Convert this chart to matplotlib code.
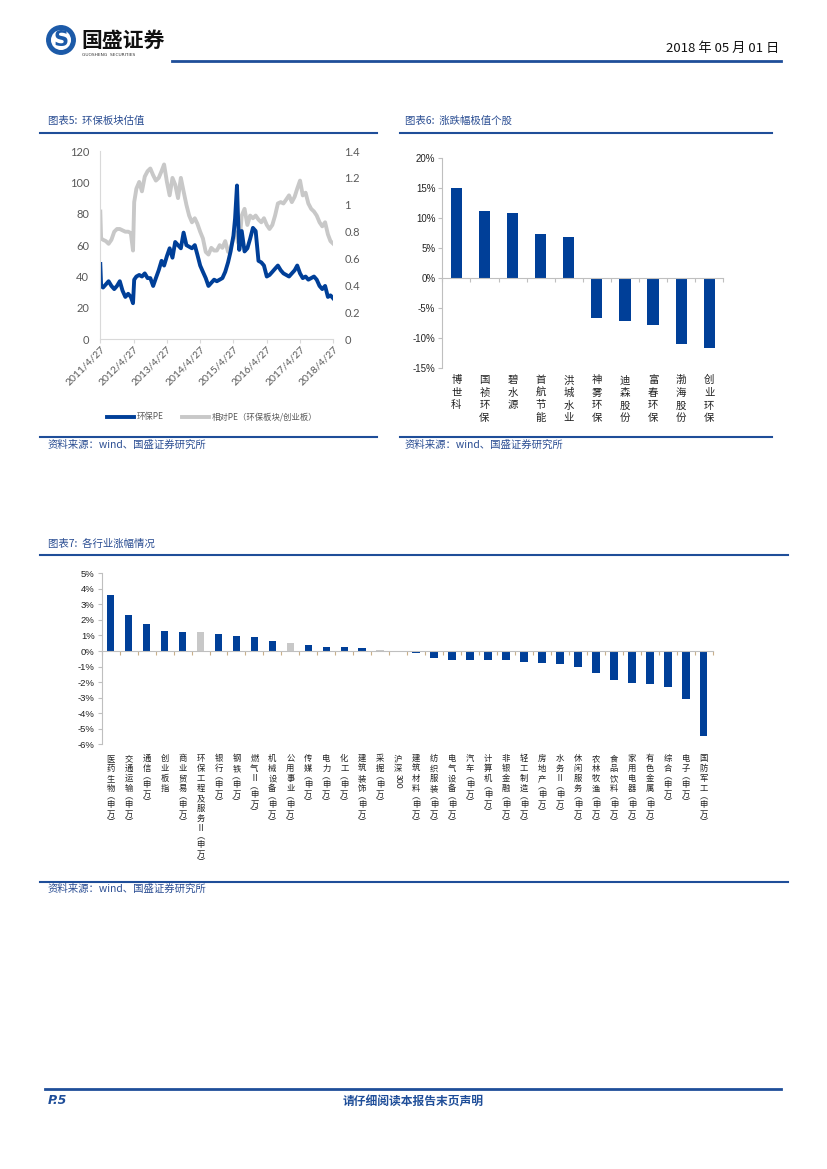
import matplotlib
matplotlib.use('Agg')
import matplotlib.pyplot as plt
from matplotlib.lines import Line2D
from matplotlib.patches import Circle
import pandas as pd

plt.rcParams['font.family'] = ['Noto Sans CJK SC', 'DejaVu Sans']
plt.rcParams['axes.unicode_minus'] = False

# ---------------- data ----------------
pe_dates = ["2011-04-27", "2011-05-06", "2011-05-27", "2011-06-27", "2011-07-27", "2011-08-27",
            "2011-09-27", "2011-10-27", "2011-11-27", "2011-12-27", "2012-01-27", "2012-02-27",
            "2012-03-27", "2012-04-20", "2012-05-03", "2012-05-27", "2012-06-27", "2012-07-27",
            "2012-08-27", "2012-09-27", "2012-10-27", "2012-11-27", "2012-12-27", "2013-01-27",
            "2013-02-27", "2013-03-27", "2013-04-27", "2013-05-27", "2013-06-27", "2013-07-27",
            "2013-08-27", "2013-09-27", "2013-10-27", "2013-11-27", "2013-12-27", "2014-01-27",
            "2014-02-27", "2014-03-27", "2014-04-27", "2014-05-27", "2014-06-27", "2014-07-27",
            "2014-08-27", "2014-09-27", "2014-10-27", "2014-11-27", "2014-12-27", "2015-01-27",
            "2015-02-27", "2015-03-27", "2015-04-27", "2015-05-15", "2015-06-05", "2015-06-15",
            "2015-06-30", "2015-07-27", "2015-08-27", "2015-09-27", "2015-10-27", "2015-11-27",
            "2015-12-27", "2016-01-27", "2016-02-27", "2016-03-27", "2016-04-27", "2016-05-27",
            "2016-06-27", "2016-07-27", "2016-08-27", "2016-09-27", "2016-10-27", "2016-11-27",
            "2016-12-27", "2017-01-27", "2017-02-27", "2017-03-27", "2017-04-27", "2017-05-27",
            "2017-06-27", "2017-07-27", "2017-08-27", "2017-09-27", "2017-10-27", "2017-11-27",
            "2017-12-27", "2018-01-27", "2018-02-27", "2018-03-27", "2018-04-27"]
pe_values = [48, 34, 33, 35, 37, 34,
             32, 34, 37, 31, 27, 29,
             27, 23, 38, 40, 41, 40,
             42, 39, 39, 34, 39, 44,
             50, 47, 53, 58, 52, 62,
             60, 58, 68, 60, 59, 58,
             60, 54, 47, 43, 39, 34,
             36, 38, 37, 38, 39, 43,
             49, 56, 66, 77, 98, 80,
             57, 69, 56, 58, 64, 71,
             69, 50, 49, 47, 40, 41,
             43, 45, 47, 44, 42, 41,
             40, 42, 44, 47, 42, 39,
             40, 38, 39, 40, 38, 34,
             32, 34, 27, 28, 26]
rel_values = [0.95, 0.75, 0.74, 0.73, 0.71, 0.74,
              0.80, 0.82, 0.82, 0.81, 0.80, 0.80,
              0.79, 0.66, 1.02, 1.12, 1.17, 1.10,
              1.21, 1.25, 1.27, 1.22, 1.18, 1.20,
              1.25, 1.30, 1.17, 1.07, 1.20, 1.15,
              1.05, 1.20, 1.10, 1.00, 0.92, 0.87,
              0.90, 0.86, 0.80, 0.75, 0.65, 0.63,
              0.68, 0.66, 0.66, 0.70, 0.68, 0.73,
              0.65, 0.68, 0.75, 0.80, 0.78, 0.72,
              0.70, 0.92, 0.97, 0.85, 0.92, 0.90,
              0.92, 0.89, 0.87, 0.90, 0.85, 0.82,
              0.85, 0.92, 1.01, 1.02, 1.01, 1.04,
              1.07, 1.02, 1.06, 1.12, 1.18, 1.07,
              1.09, 1.01, 0.97, 0.95, 0.92, 0.87,
              0.84, 0.87, 0.78, 0.73, 0.71]
pe_tick_dates = ["2011-04-27", "2012-04-27", "2013-04-27", "2014-04-27",
                 "2015-04-27", "2016-04-27", "2017-04-27", "2018-04-27"]
pe_tick_labels = ["2011/4/27", "2012/4/27", "2013/4/27", "2014/4/27",
                  "2015/4/27", "2016/4/27", "2017/4/27", "2018/4/27"]
pe_left_ticks = [0, 20, 40, 60, 80, 100, 120]
pe_right_ticks = [0, 0.2, 0.4, 0.6, 0.8, 1.0, 1.2, 1.4]
pe_right_labels = ["0", "0.2", "0.4", "0.6", "0.8", "1", "1.2", "1.4"]

stock_names = ["博世科", "国祯环保", "碧水源", "首航节能", "洪城水业",
               "神雾环保", "迪森股份", "富春环保", "渤海股份", "创业环保"]
stock_changes = [15.1, 11.2, 10.9, 7.3, 6.9, -6.7, -7.2, -7.8, -10.9, -11.7]
stock_ticks = [-15, -10, -5, 0, 5, 10, 15, 20]

industry_names = ["医药生物(申万)", "交通运输(申万)", "通信(申万)", "创业板指", "商业贸易(申万)",
                  "环保工程及服务Ⅱ(申万)", "银行(申万)", "钢铁(申万)", "燃气Ⅱ(申万)", "机械设备(申万)",
                  "公用事业(申万)", "传媒(申万)", "电力(申万)", "化工(申万)", "建筑装饰(申万)",
                  "采掘(申万)", "沪深300", "建筑材料(申万)", "纺织服装(申万)", "电气设备(申万)",
                  "汽车(申万)", "计算机(申万)", "非银金融(申万)", "轻工制造(申万)", "房地产(申万)",
                  "水务Ⅱ(申万)", "休闲服务(申万)", "农林牧渔(申万)", "食品饮料(申万)", "家用电器(申万)",
                  "有色金属(申万)", "综合(申万)", "电子(申万)", "国防军工(申万)"]
industry_changes = [3.62, 2.32, 1.73, 1.28, 1.24, 1.21, 1.10, 0.94, 0.91, 0.63,
                    0.52, 0.40, 0.27, 0.24, 0.22, 0.07, -0.08, -0.13, -0.44, -0.55,
                    -0.55, -0.57, -0.59, -0.69, -0.76, -0.86, -1.04, -1.40, -1.85, -2.05,
                    -2.15, -2.30, -3.10, -5.45]
industry_gray = ["环保工程及服务Ⅱ(申万)", "公用事业(申万)", "采掘(申万)"]
industry_ticks = [-6, -5, -4, -3, -2, -1, 0, 1, 2, 3, 4, 5]

# ---------------- style ----------------
W, H = 827, 1169
BLUE = '#003F98'
TITLE_BLUE = '#2B4E93'
LINE_BLUE = '#1F4E99'
GRAY = '#C8C8C8'


def fx(x):
    return x / W


def fy(y):
    return 1 - y / H


def rect(l, t, r, b):
    return [fx(l), fy(b), fx(r) - fx(l), fy(t) - fy(b)]


def hline(fig, x0, x1, y, lw=1.5, color=LINE_BLUE):
    fig.add_artist(Line2D([fx(x0), fx(x1)], [fy(y), fy(y)], color=color, lw=lw))


fig = plt.figure(figsize=(W / 100, H / 100), dpi=100)

# ---------------- header ----------------
logo = fig.add_axes(rect(46, 25, 76, 55))
logo.set_xlim(-1, 1)
logo.set_ylim(-1, 1)
logo.set_aspect('equal')
logo.axis('off')
logo.add_patch(Circle((0, 0), 0.95, color='#1C5AA8'))
logo.add_patch(Circle((0, 0), 0.62, color='white'))
logo.text(0, -0.02, "S", ha='center', va='center', fontsize=15, fontweight='bold',
          color='#1C5AA8', family=['DejaVu Sans'])
fig.text(fx(81), fy(40), "国盛证券", fontsize=15, fontweight='bold', color='#111111',
         va='center', ha='left')
fig.text(fx(82), fy(55), "GUOSHENG  SECURITIES", fontsize=3.2, color='#333333',
         va='center', ha='left', family=['DejaVu Sans'])
fig.text(fx(779), fy(48), "2018 年 05 月 01 日", fontsize=9.5, color='#111111',
         va='center', ha='right')
hline(fig, 172, 781, 61, lw=2.0)

# ---------------- chart 5 ----------------
fig.text(fx(48), fy(121), "图表5:  环保板块估值", fontsize=7.5, color=TITLE_BLUE, va='center')
hline(fig, 40, 377, 133)
hline(fig, 40, 377, 437)
fig.text(fx(48), fy(445), "资料来源：wind、国盛证券研究所", fontsize=7.5, color=TITLE_BLUE, va='center')

dates = pd.to_datetime(pe_dates)
ax5 = fig.add_axes(rect(100.3, 151, 333.3, 339.3))
ax5b = ax5.twinx()
ax5.plot(dates, pe_values, color=BLUE, lw=2.8, solid_joinstyle='round', label="环保PE")
ax5b.plot(dates, rel_values, color=GRAY, lw=2.8, solid_joinstyle='round',
          label="相对PE（环保板块/创业板）")
ax5.set_zorder(ax5b.get_zorder() + 1)
ax5.patch.set_visible(False)
ax5.set_ylim(0, 120)
ax5b.set_ylim(0, 1.4)
ax5.set_xlim(pd.Timestamp(pe_tick_dates[0]), pd.Timestamp(pe_tick_dates[-1]))
ax5.set_yticks(pe_left_ticks)
ax5b.set_yticks(pe_right_ticks)
ax5b.set_yticklabels(pe_right_labels)
ax5.set_xticks(pd.to_datetime(pe_tick_dates))
ax5.set_xticklabels(pe_tick_labels, rotation=45, ha='right', rotation_mode='anchor')
for a in (ax5, ax5b):
    for s in ('top', 'right'):
        a.spines[s].set_visible(False)
    a.spines['left'].set_color('#D9D9D9')
    a.spines['bottom'].set_color('#D9D9D9')
ax5b.spines['left'].set_visible(False)
ax5b.spines['bottom'].set_visible(False)
ax5.tick_params(axis='y', length=0, labelsize=8, labelcolor='#595959', pad=8)
ax5b.tick_params(axis='y', length=0, labelsize=8, labelcolor='#595959', pad=8)
ax5.tick_params(axis='x', length=3, color='#D9D9D9', labelsize=7.5, labelcolor='#595959', pad=1)
for lab in ax5.get_xticklabels() + ax5.get_yticklabels() + ax5b.get_yticklabels():
    lab.set_family(['Lato', 'DejaVu Sans'])

h1, l1 = ax5.get_legend_handles_labels()
h2, l2 = ax5b.get_legend_handles_labels()
fig.legend(h1 + h2, l1 + l2, loc='center', bbox_to_anchor=(fx(212), fy(417)), ncol=2,
           frameon=False, fontsize=6, labelcolor='#595959', handlelength=3.3,
           columnspacing=2.2, handletextpad=0.3)

# ---------------- chart 6 ----------------
fig.text(fx(405), fy(121), "图表6:  涨跌幅极值个股", fontsize=7.5, color=TITLE_BLUE, va='center')
hline(fig, 400, 772, 133)
hline(fig, 400, 772, 437)
fig.text(fx(405), fy(445), "资料来源：wind、国盛证券研究所", fontsize=7.5, color=TITLE_BLUE, va='center')

ax6 = fig.add_axes(rect(442.3, 158.3, 723.3, 368.3))
x6 = list(range(len(stock_names)))
ax6.bar(x6, stock_changes, width=0.4, color=BLUE)
ax6.set_xlim(-0.5, len(stock_names) - 0.5)
ax6.set_ylim(-15, 20)
ax6.set_yticks(stock_ticks)
ax6.set_yticklabels([f"{v}%" for v in stock_ticks])
for s in ('top', 'right'):
    ax6.spines[s].set_visible(False)
ax6.spines['left'].set_color('#BFBFBF')
ax6.spines['bottom'].set_position(('data', 0))
ax6.spines['bottom'].set_color('#BFBFBF')
ax6.set_xticks([i + 0.5 for i in x6[:-1]] + [-0.5, len(stock_names) - 0.5])
ax6.set_xticklabels([])
ax6.tick_params(axis='x', length=3, color='#BFBFBF')
ax6.tick_params(axis='y', length=3, color='#BFBFBF', labelsize=7, labelcolor='#222222', pad=2)
for lab in ax6.get_yticklabels():
    lab.set_family(['Liberation Sans', 'DejaVu Sans'])
for i, name in enumerate(stock_names):
    ax6.annotate("\n".join(name), xy=(i, 0), xycoords=('data', 'axes fraction'),
                 xytext=(0, -5), textcoords='offset points', ha='center', va='top',
                 fontsize=7.5, color='#222222', linespacing=1.32)

# ---------------- chart 7 ----------------
fig.text(fx(48), fy(544), "图表7:  各行业涨幅情况", fontsize=7.5, color=TITLE_BLUE, va='center')
hline(fig, 40, 788, 555.5)
hline(fig, 40, 788, 882)
fig.text(fx(48), fy(889), "资料来源：wind、国盛证券研究所", fontsize=7.5, color=TITLE_BLUE, va='center')

ax7 = fig.add_axes(rect(101.7, 573.3, 712.7, 744.3))
x7 = list(range(len(industry_names)))
colors7 = [GRAY if n in industry_gray else BLUE for n in industry_names]
ax7.bar(x7, industry_changes, width=0.42, color=colors7)
ax7.set_xlim(-0.5, len(industry_names) - 0.5)
ax7.set_ylim(-6, 5)
ax7.set_yticks(industry_ticks)
ax7.set_yticklabels([f"{v}%" for v in industry_ticks])
for s in ('top', 'right'):
    ax7.spines[s].set_visible(False)
ax7.spines['left'].set_color('#BFBFBF')
ax7.spines['bottom'].set_position(('data', 0))
ax7.spines['bottom'].set_color('#BFBFBF')
ax7.set_xticks([i - 0.5 for i in x7] + [len(industry_names) - 0.5])
ax7.set_xticklabels([])
ax7.tick_params(axis='x', length=3, color='#C9B08A')
ax7.tick_params(axis='y', length=3, color='#BFBFBF', labelsize=6.8, labelcolor='#222222', pad=2)
for lab in ax7.get_yticklabels():
    lab.set_family(['Liberation Sans', 'DejaVu Sans'])

# vertical label layout (in points): full glyph pitch and half pitch for brackets
CHAR_PT = 7.2
PAREN_PT = 4.2
START_PT = 6.8
vert_map = {"(": "︵", ")": "︶"}


def vertical_label(ax, i, text):
    pos = START_PT
    k = 0
    while k < len(text):
        if text[k:].startswith("300"):
            ax.annotate("300", xy=(i, 0), xycoords=('data', 'axes fraction'),
                        xytext=(0, -pos), textcoords='offset points', ha='center', va='top',
                        fontsize=6.3, color='#222222', rotation=-90,
                        family=['Liberation Sans', 'DejaVu Sans'])
            pos += 11
            k += 3
            continue
        c = text[k]
        step = PAREN_PT if c in vert_map else CHAR_PT
        ax.annotate(vert_map.get(c, c), xy=(i, 0), xycoords=('data', 'axes fraction'),
                    xytext=(0, -(pos + step / 2)), textcoords='offset points',
                    ha='center', va='center', fontsize=6, color='#222222')
        pos += step
        k += 1


for i, name in enumerate(industry_names):
    vertical_label(ax7, i, name)

# ---------------- footer ----------------
hline(fig, 45, 781, 1089, lw=2.0)
fig.text(fx(48), fy(1101), "P.5", fontsize=9, fontweight='bold', fontstyle='italic',
         color=LINE_BLUE, va='center', family=['DejaVu Sans'])
fig.text(fx(413), fy(1101), "请仔细阅读本报告末页声明", fontsize=8.5, fontweight='bold',
         color=LINE_BLUE, va='center', ha='center')

fig.savefig("out.png", dpi=100)
